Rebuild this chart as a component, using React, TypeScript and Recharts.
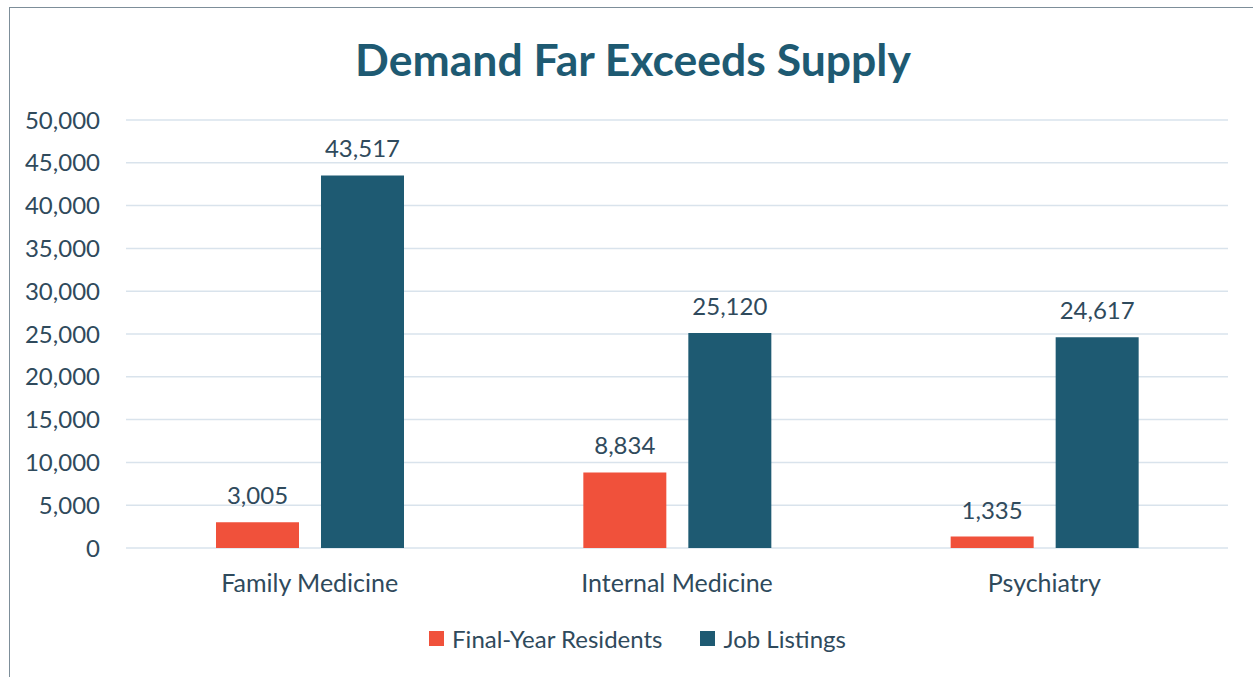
import React from 'react'
import {
  BarChart,
  Bar,
  XAxis,
  YAxis,
  CartesianGrid,
  Legend,
  LabelList,
} from 'recharts'

const categories = ['Family Medicine', 'Internal Medicine', 'Psychiatry']
const finalYearResidents = [3005, 8834, 1335]
const jobListings = [43517, 25120, 24617]
const yTicks = [0, 5000, 10000, 15000, 20000, 25000, 30000, 35000, 40000, 45000, 50000]

const RED = '#F0513B'
const BLUE = '#1E5A72'
const TEXT = '#2F4A5C'
const FONT = 'Lato, "Open Sans", sans-serif'

const data = categories.map((name, i) => ({
  name,
  residents: finalYearResidents[i],
  listings: jobListings[i],
}))

const fmt = (v: number) => v.toLocaleString('en-US')

function LegendContent() {
  const items = [
    { label: 'Final-Year Residents', color: RED },
    { label: 'Job Listings', color: BLUE },
  ]
  return (
    <div
      style={{
        height: 40,
        display: 'flex',
        justifyContent: 'center',
        alignItems: 'center',
        gap: 38,
        fontFamily: FONT,
        fontSize: 24,
        color: TEXT,
        paddingLeft: 22,
      }}
    >
      {items.map((it) => (
        <div key={it.label} style={{ display: 'flex', alignItems: 'center' }}>
          <span
            style={{ width: 15, height: 15, background: it.color, marginRight: 8, display: 'inline-block' }}
          />
          <span>{it.label}</span>
        </div>
      ))}
    </div>
  )
}

export default function App() {
  return (
    <div
      style={{
        position: 'absolute',
        left: 0,
        top: 0,
        width: 1253,
        height: 677,
        overflow: 'hidden',
        background: '#fff',
      }}
    >
      <div
        style={{
          position: 'absolute',
          left: 9,
          top: 7,
          width: 1300,
          height: 720,
          borderLeft: '1.5px solid #7D8E99',
          borderTop: '1.5px solid #7D8E99',
        }}
      />
      <div
        style={{
          position: 'absolute',
          left: 0,
          top: 30,
          width: 1266,
          textAlign: 'center',
          fontFamily: FONT,
          fontWeight: 700,
          fontSize: 44.5,
          color: BLUE,
          lineHeight: '58px',
        }}
      >
        Demand Far Exceeds Supply
      </div>
      <BarChart
        width={1253}
        height={677}
        data={data}
        margin={{ top: 120, right: 25, left: 0, bottom: 39 }}
        barGap={22}
        barCategoryGap="24.5%"
        style={{ position: 'absolute', left: 0, top: 0 }}
      >
        <CartesianGrid vertical={false} stroke="#D9E3EC" strokeWidth={1.5} />
        <XAxis
          dataKey="name"
          axisLine={false}
          tickLine={false}
          height={50}
          tick={{ fill: TEXT, fontSize: 25, fontFamily: FONT }}
          dy={18}
        />
        <YAxis
          width={126}
          domain={[0, 50000]}
          ticks={yTicks}
          interval={0}
          axisLine={false}
          tickLine={false}
          tickFormatter={fmt}
          tick={{ fill: TEXT, fontSize: 24, fontFamily: FONT }}
          dx={-18}
        />
        <Legend
          verticalAlign="bottom"
          content={<LegendContent />}
          wrapperStyle={{ top: 618, bottom: 'auto', left: 0, width: 1253 }}
        />
        <Bar dataKey="residents" name="Final-Year Residents" fill={RED} isAnimationActive={false}>
          <LabelList
            dataKey="residents"
            position="top"
            offset={18}
            formatter={(v: any) => fmt(Number(v))}
            style={{ fill: TEXT, fontSize: 24, fontFamily: FONT }}
          />
        </Bar>
        <Bar dataKey="listings" name="Job Listings" fill={BLUE} isAnimationActive={false}>
          <LabelList
            dataKey="listings"
            position="top"
            offset={18}
            formatter={(v: any) => fmt(Number(v))}
            style={{ fill: TEXT, fontSize: 24, fontFamily: FONT }}
          />
        </Bar>
      </BarChart>
    </div>
  )
}
